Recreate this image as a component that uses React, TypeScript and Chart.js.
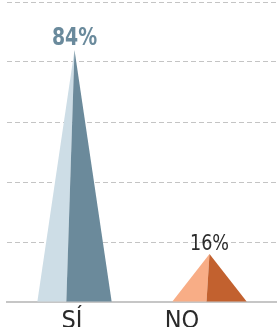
import { useEffect, useRef } from 'react';
import { Chart, registerables } from 'chart.js';

Chart.register(...registerables);

const categories = ['SÍ', 'NO'];
const values = [84, 16];
const valueLabels = ['84%', '16%'];
const yMin = 0;
const yMax = 100;
const yStep = 20;

const lightColors = ['#cddde6', '#f8ad86'];
const darkColors = ['#6b8a9b', '#c2612f'];
const splitAtBase = [0.39, 0.46];
const labelColors = ['#6a8a9c', '#2b2b2b'];
const labelFonts = [
  "bold 25px 'DejaVu Sans Condensed', sans-serif",
  "21px 'DejaVu Sans Condensed', sans-serif",
];
const labelSquash = [0.84, 0.93];
const labelGap = [5, 4];

const trianglePlugin = {
  id: 'triangles',
  afterDatasetsDraw(chart: any) {
    const ctx = chart.ctx;
    const meta = chart.getDatasetMeta(0);
    meta.data.forEach((el: any, i: number) => {
      const { x, y, base, width } = el.getProps(['x', 'y', 'base', 'width'], true);
      const left = x - width / 2;
      const right = x + width / 2;
      const sx = left + width * splitAtBase[i];
      ctx.save();
      ctx.fillStyle = lightColors[i];
      ctx.beginPath();
      ctx.moveTo(x, y);
      ctx.lineTo(left, base);
      ctx.lineTo(sx, base);
      ctx.closePath();
      ctx.fill();
      ctx.fillStyle = darkColors[i];
      ctx.beginPath();
      ctx.moveTo(x, y);
      ctx.lineTo(sx, base);
      ctx.lineTo(right, base);
      ctx.closePath();
      ctx.fill();
      ctx.font = labelFonts[i];
      ctx.fillStyle = labelColors[i];
      ctx.textAlign = 'center';
      ctx.textBaseline = 'alphabetic';
      ctx.translate(x, y - labelGap[i]);
      ctx.scale(labelSquash[i], 1);
      ctx.fillText(valueLabels[i], 0, 0);
      ctx.restore();
    });
  },
};

export default function App() {
  const ref = useRef<HTMLCanvasElement | null>(null);
  useEffect(() => {
    document.body.style.margin = '0';
    document.body.style.overflow = 'hidden';
    const chart = new Chart(ref.current as HTMLCanvasElement, {
      type: 'bar',
      data: {
        labels: categories,
        datasets: [
          {
            data: values,
            backgroundColor: 'rgba(0,0,0,0)',
            barPercentage: 0.55,
            categoryPercentage: 1,
          },
        ],
      },
      options: {
        responsive: false,
        animation: false,
        layout: { padding: { left: 7, top: 2, right: 0, bottom: 0 } },
        plugins: { legend: { display: false }, tooltip: { enabled: false } },
        scales: {
          x: { type: 'category', display: false },
          xl: {
            type: 'linear',
            position: 'bottom',
            offset: false,
            bounds: 'data',
            min: -0.591,
            max: 1.864,
            afterBuildTicks: (s: any) => {
              s.ticks = categories.map((_, i) => ({ value: i }));
            },
            afterFit: (s: any) => {
              s.height = 43;
            },
            ticks: {
              callback: (v: any) => categories[v as number] ?? '',
              color: '#2a2a2a',
              font: { family: "'DejaVu Sans Condensed', sans-serif", size: 25 },
              padding: 4,
              maxRotation: 0,
              autoSkip: false,
            },
            grid: { display: false, drawTicks: false, offset: false },
            border: { display: true, color: '#c6c6c6', width: 2 },
          },
          y: {
            min: yMin,
            max: yMax,
            ticks: { display: false, stepSize: yStep },
            afterFit: (s: any) => {
              s.width = 0;
            },
            grid: {
              drawTicks: false,
              color: (c: any) => (c.tick && c.tick.value === 0 ? 'rgba(0,0,0,0)' : '#c4c4c4'),
              lineWidth: 1,
            },
            border: { display: false, dash: [5, 3] },
          },
        },
      } as any,
      plugins: [trianglePlugin],
    });
    return () => chart.destroy();
  }, []);
  return (
    <div style={{ width: 277, height: 327, overflow: 'hidden', background: '#fff' }}>
      <canvas ref={ref} width={277} height={345} style={{ display: 'block' }} />
    </div>
  );
}
